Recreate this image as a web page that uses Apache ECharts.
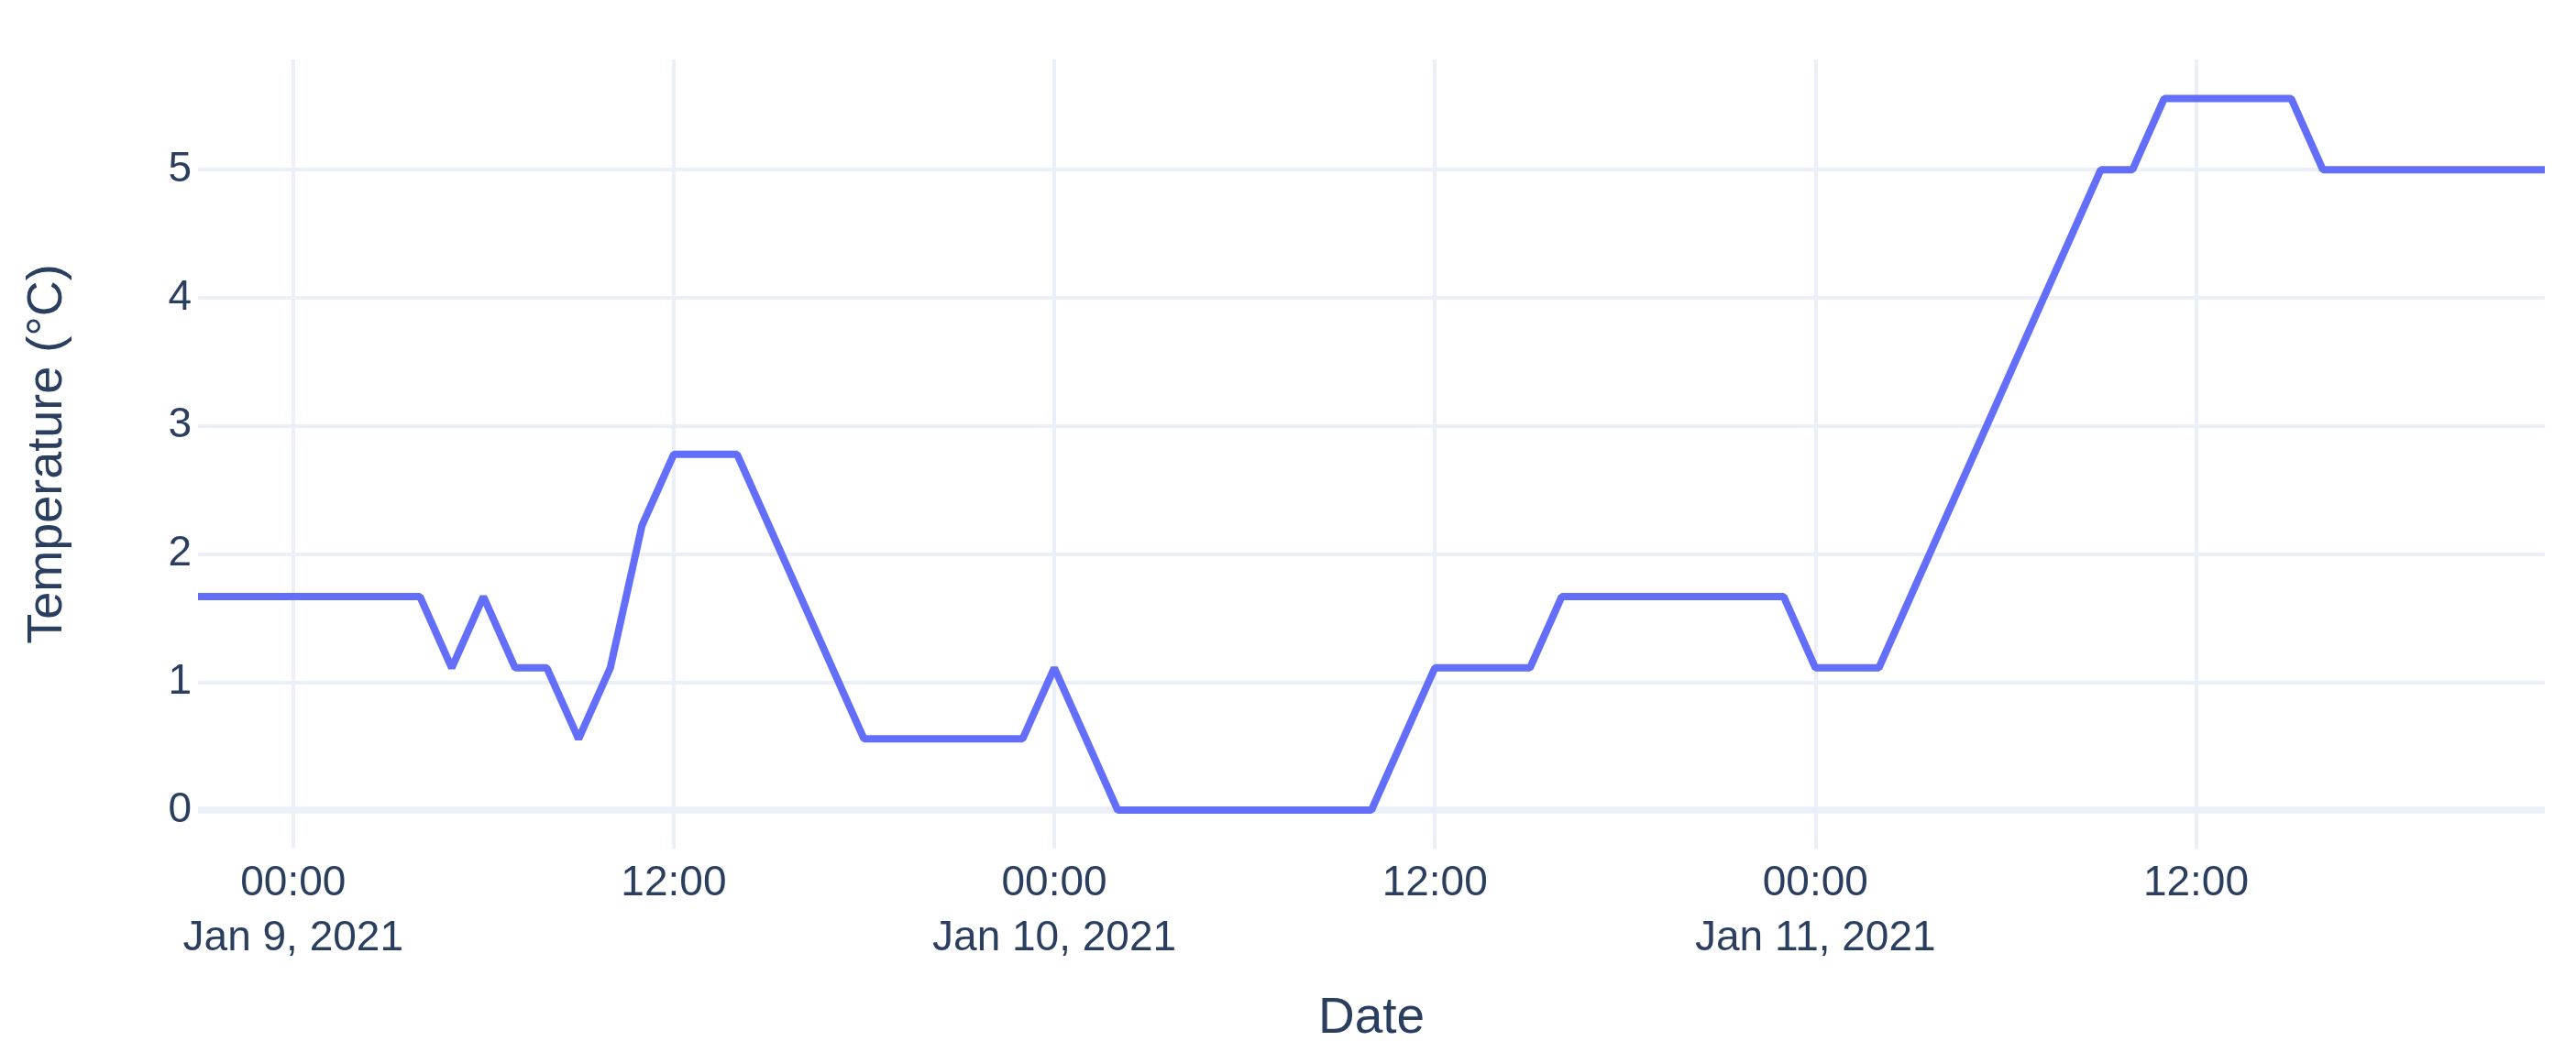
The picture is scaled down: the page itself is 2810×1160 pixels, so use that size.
<!DOCTYPE html>
<html>
<head>
<meta charset="utf-8">
<script src="https://cdn.jsdelivr.net/npm/echarts@6/dist/echarts.min.js"></script>
<style>
  html, body { margin: 0; padding: 0; background: #ffffff; }
  #chart { width: 2810px; height: 1160px; }
</style>
</head>
<body>
<div id="chart"></div>
<script>
const times = [
  '2021-01-08 21:00', '2021-01-08 22:00', '2021-01-08 23:00',
  '2021-01-09 00:00', '2021-01-09 01:00', '2021-01-09 02:00', '2021-01-09 03:00',
  '2021-01-09 04:00', '2021-01-09 05:00', '2021-01-09 06:00', '2021-01-09 07:00',
  '2021-01-09 08:00', '2021-01-09 09:00', '2021-01-09 10:00', '2021-01-09 11:00',
  '2021-01-09 12:00', '2021-01-09 13:00', '2021-01-09 14:00', '2021-01-09 15:00',
  '2021-01-09 16:00', '2021-01-09 17:00', '2021-01-09 18:00', '2021-01-09 19:00',
  '2021-01-09 20:00', '2021-01-09 21:00', '2021-01-09 22:00', '2021-01-09 23:00',
  '2021-01-10 00:00', '2021-01-10 01:00', '2021-01-10 02:00', '2021-01-10 03:00',
  '2021-01-10 04:00', '2021-01-10 05:00', '2021-01-10 06:00', '2021-01-10 07:00',
  '2021-01-10 08:00', '2021-01-10 09:00', '2021-01-10 10:00', '2021-01-10 11:00',
  '2021-01-10 12:00', '2021-01-10 13:00', '2021-01-10 14:00', '2021-01-10 15:00',
  '2021-01-10 16:00', '2021-01-10 17:00', '2021-01-10 18:00', '2021-01-10 19:00',
  '2021-01-10 20:00', '2021-01-10 21:00', '2021-01-10 22:00', '2021-01-10 23:00',
  '2021-01-11 00:00', '2021-01-11 01:00', '2021-01-11 02:00', '2021-01-11 03:00',
  '2021-01-11 04:00', '2021-01-11 05:00', '2021-01-11 06:00', '2021-01-11 07:00',
  '2021-01-11 08:00', '2021-01-11 09:00', '2021-01-11 10:00', '2021-01-11 11:00',
  '2021-01-11 12:00', '2021-01-11 13:00', '2021-01-11 14:00', '2021-01-11 15:00',
  '2021-01-11 16:00', '2021-01-11 17:00', '2021-01-11 18:00', '2021-01-11 19:00',
  '2021-01-11 20:00', '2021-01-11 21:00', '2021-01-11 22:00', '2021-01-11 23:00'
];

const temperatures = [
  1.667, 1.667, 1.667,
  1.667, 1.667, 1.667, 1.667,
  1.667, 1.111, 1.667, 1.111,
  1.111, 0.556, 1.111, 2.222,
  2.778, 2.778, 2.778, 2.222,
  1.667, 1.111, 0.556, 0.556,
  0.556, 0.556, 0.556, 0.556,
  1.111, 0.556, 0, 0,
  0, 0, 0, 0,
  0, 0, 0, 0.556,
  1.111, 1.111, 1.111, 1.111,
  1.667, 1.667, 1.667, 1.667,
  1.667, 1.667, 1.667, 1.667,
  1.111, 1.111, 1.111, 1.667,
  2.222, 2.778, 3.333, 3.889,
  4.444, 5, 5, 5.556,
  5.556, 5.556, 5.556, 5.556,
  5, 5, 5, 5,
  5, 5, 5, 5
];

const xTickTimes = ['2021-01-09 00:00', '2021-01-09 12:00', '2021-01-10 00:00',
                    '2021-01-10 12:00', '2021-01-11 00:00', '2021-01-11 12:00'];
const xTickLabels = ['00:00\nJan 9, 2021', '12:00', '00:00\nJan 10, 2021',
                     '12:00', '00:00\nJan 11, 2021', '12:00'];
const yTickValues = [0, 1, 2, 3, 4, 5];

const toMs = s => new Date(s.replace(' ', 'T')).getTime();
const xTickMs = xTickTimes.map(toMs);

const FONT = '"Liberation Sans", Arial, sans-serif';
const TEXT = '#2a3f5f';
const GRID = '#EBF0F8';

const chart = echarts.init(document.getElementById('chart'), null, { renderer: 'canvas' });

chart.setOption({
  backgroundColor: '#ffffff',
  animation: false,
  textStyle: { fontFamily: FONT },
  grid: { left: 216, right: 34, top: 65, bottom: 234, containLabel: false },
  xAxis: {
    type: 'value',
    min: toMs(times[0]),
    max: toMs(times[times.length - 1]),
    name: 'Date',
    nameLocation: 'middle',
    nameGap: 158,
    nameTextStyle: { fontFamily: FONT, fontSize: 55, color: TEXT },
    axisLine: { show: false },
    axisTick: { show: false, customValues: xTickMs },
    axisLabel: {
      customValues: xTickMs,
      fontFamily: FONT,
      fontSize: 46,
      lineHeight: 60,
      color: TEXT,
      margin: 8,
      align: 'center',
      formatter: function (v) {
        const i = xTickMs.indexOf(v);
        return i >= 0 ? xTickLabels[i] : '';
      }
    },
    splitLine: { show: true, lineStyle: { color: GRID, width: 4 } }
  },
  yAxis: {
    type: 'value',
    min: -0.3,
    max: 5.86,
    name: 'Temperature (°C)',
    nameLocation: 'middle',
    nameGap: 137,
    nameRotate: 90,
    nameTextStyle: { fontFamily: FONT, fontSize: 54, color: TEXT },
    axisLine: { show: false },
    axisTick: { show: false, customValues: yTickValues },
    axisLabel: {
      customValues: yTickValues,
      fontFamily: FONT,
      fontSize: 46,
      color: TEXT,
      margin: 7
    },
    splitLine: { show: true, lineStyle: { color: GRID, width: 4 } }
  },
  series: [
    {
      type: 'line',
      data: [],
      z: 1,
      silent: true,
      markLine: {
        silent: true,
        z: 1,
        symbol: ['none', 'none'],
        label: { show: false },
        lineStyle: { color: GRID, width: 7.5, type: 'solid' },
        data: [{ yAxis: 0 }]
      }
    },
    {
      type: 'line',
      z: 3,
      data: times.map((t, i) => [toMs(t), temperatures[i]]),
      showSymbol: false,
      symbol: 'none',
      smooth: false,
      lineStyle: { color: '#636efa', width: 8 },
      itemStyle: { color: '#636efa' }
    }
  ]
});
</script>
</body>
</html>
